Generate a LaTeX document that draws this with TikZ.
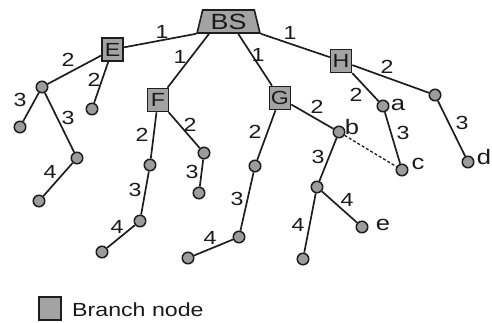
\documentclass[tikz,border=0pt]{standalone}
\usepackage{fontspec}
\setmainfont[FakeStretch=1.22]{Liberation Sans}
\usetikzlibrary{shapes.geometric,calc}
\definecolor{linec}{HTML}{1E1E1E}
\definecolor{boxc}{HTML}{A3A3A3}
\definecolor{circc}{HTML}{9C9C9C}
\definecolor{textc}{HTML}{1A1A1A}
\begin{document}
\begin{tikzpicture}[x=1pt,y=-1pt,
  edge/.style={draw=linec, line width=1.7pt},
  dashedge/.style={draw=linec, line width=1.3pt, dash pattern=on 3pt off 2pt},
  br/.style={draw=linec, fill=boxc, minimum width=21pt, minimum height=23pt, inner sep=0pt, line width=1.6pt, text=textc, font=\fontsize{19}{19}\selectfont},
  leaf/.style={circle, draw=linec, fill=circc, minimum size=11.5pt, inner sep=0pt, line width=1.5pt},
  lbl/.style={font=\fontsize{19}{19}\selectfont, text=textc, inner sep=0pt},
  tag/.style={font=\fontsize{21}{21}\selectfont, text=textc, inner sep=0pt}]
\useasboundingbox (0,0) rectangle (492,322);
% base station
\node[trapezium, trapezium stretches=true, trapezium left angle=76, trapezium right angle=76,
      minimum width=63pt, minimum height=23pt, inner sep=0pt, draw=linec, fill=boxc, line width=1.6pt,
      text=textc, font=\fontsize{22}{22}\selectfont] (bs) at (228.5,21.5) {BS};
\coordinate (bsE) at (bs.bottom left corner);
\coordinate (bsF) at ($(bs.bottom left corner)!0.2!(bs.bottom right corner)$);
\coordinate (bsG) at ($(bs.bottom left corner)!0.65!(bs.bottom right corner)$);
\coordinate (bsH) at (bs.bottom right corner);
% branch nodes
\node[br] (E) at (112.5,49.5) {E};
\node[br] (F) at (158,100) {F};
\node[br] (G) at (280,98) {G};
\node[br] (H) at (341,61) {H};
% leaves
\node[leaf] (n1) at (42,87) {};
\node[leaf] (n2) at (20,127) {};
\node[leaf] (n3) at (77,158) {};
\node[leaf] (n4) at (39,201) {};
\node[leaf] (n5) at (92,109) {};
\node[leaf] (n6) at (150,165) {};
\node[leaf] (n7) at (140,221) {};
\node[leaf] (n8) at (102,252) {};
\node[leaf] (n9) at (204,153) {};
\node[leaf] (n10) at (199,193) {};
\node[leaf] (n11) at (255,166) {};
\node[leaf] (n12) at (239,237) {};
\node[leaf] (n13) at (188,258) {};
\node[leaf] (nb) at (339,132) {};
\node[leaf] (n14) at (317,187) {};
\node[leaf] (n15) at (303,259) {};
\node[leaf] (ne) at (362,227) {};
\node[leaf] (na) at (383,106) {};
\node[leaf] (nc) at (402,170) {};
\node[leaf] (n16) at (435,95) {};
\node[leaf] (nd) at (468,162) {};
% leaf tags
\node[tag] at (398,105) {a};
\node[tag] at (352,127) {b};
\node[tag] at (418,164) {c};
\node[tag] at (484,157) {d};
\node[tag] at (383,225) {e};
% connectors
\draw[edge] (bsE) -- (E);
\draw[edge] (bsF) -- (F);
\draw[edge] (bsG) -- (G);
\draw[edge] (bsH) -- (H);
\draw[edge] (E) -- (n1);
\draw[edge] (E) -- (n5);
\draw[edge] (n1) -- (n2);
\draw[edge] (n1) -- (n3);
\draw[edge] (n3) -- (n4);
\draw[edge] (F) -- (n6);
\draw[edge] (F) -- (n9);
\draw[edge] (n6) -- (n7);
\draw[edge] (n7) -- (n8);
\draw[edge] (n9) -- (n10);
\draw[edge] (G) -- (n11);
\draw[edge] (G) -- (nb);
\draw[edge] (n11) -- (n12);
\draw[edge] (n12) -- (n13);
\draw[edge] (nb) -- (n14);
\draw[edge] (n14) -- (n15);
\draw[edge] (n14) -- (ne);
\draw[dashedge] (nb) -- (nc);
\draw[edge] (H) -- (na);
\draw[edge] (H) -- (n16);
\draw[edge] (na) -- (nc);
\draw[edge] (n16) -- (nd);
% connector labels
\node[lbl] at (162,32) {1};
\node[lbl] at (180,57) {1};
\node[lbl] at (258,55) {1};
\node[lbl] at (290,33) {1};
\node[lbl] at (68,60) {2};
\node[lbl] at (94,80) {2};
\node[lbl] at (20,100) {3};
\node[lbl] at (68,118) {3};
\node[lbl] at (50,172) {4};
\node[lbl] at (142,135) {2};
\node[lbl] at (190,125) {2};
\node[lbl] at (135,190) {3};
\node[lbl] at (117,227) {4};
\node[lbl] at (192,172) {3};
\node[lbl] at (255,132) {2};
\node[lbl] at (317,107) {2};
\node[lbl] at (237,199) {3};
\node[lbl] at (210,238) {4};
\node[lbl] at (318,157) {3};
\node[lbl] at (298,225) {4};
\node[lbl] at (347,200) {4};
\node[lbl] at (356,95) {2};
\node[lbl] at (387,67) {2};
\node[lbl] at (403,133) {3};
\node[lbl] at (462,123) {3};
% legend
\node[br, minimum width=22pt] (leg) at (50,308.5) {};
\node[tag, font=\fontsize{19}{19}\selectfont, anchor=west] (legt) at (72,310) {Branch node};
\end{tikzpicture}
\end{document}
